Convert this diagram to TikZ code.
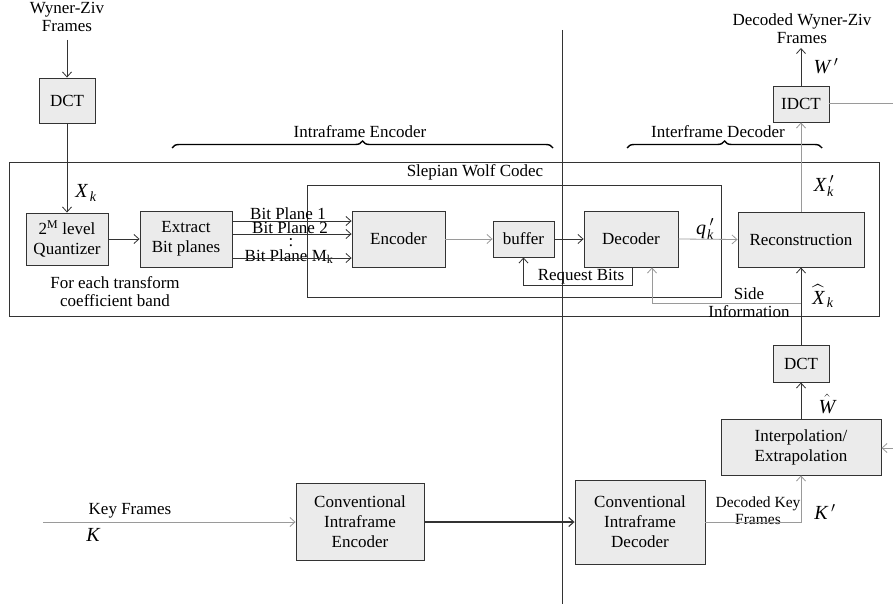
\documentclass[tikz,border=0pt]{standalone}
\usepackage{amsmath}
\usepackage{fontspec}
\setmainfont{Liberation Serif}
\usetikzlibrary{arrows.meta,decorations.pathreplacing}
\definecolor{boxfill}{HTML}{EBEBEB}
\definecolor{dk}{HTML}{333333}
\definecolor{lg}{HTML}{9A9A9A}
\newcommand{\ti}[1]{\text{\itshape #1}}
\tikzset{
  blk/.style={draw=dk,fill=boxfill,line width=0.9pt,align=center,inner sep=0pt,
    font=\fontsize{17}{20}\selectfont},
  lbl/.style={align=center,inner sep=0pt,font=\fontsize{17}{18}\selectfont},
  mlbl/.style={inner sep=0pt,font=\fontsize{20}{21}\selectfont},
  darr/.style={draw=dk,line width=0.8pt,-{Straight Barb[length=5pt,width=9pt]}},
  garr/.style={draw=lg,line width=0.8pt,-{Straight Barb[length=5pt,width=9pt]}},
  dline/.style={draw=dk,line width=0.8pt},
  gline/.style={draw=lg,line width=0.8pt},
  brc/.style={draw=black,line width=1.4pt,decorate,decoration={brace,amplitude=7pt}}
}
\begin{document}
\begin{tikzpicture}[x=1pt,y=-1pt]
\useasboundingbox (0,0) rectangle (893,604);
% frames
\draw[dline] (9,162) rectangle (879,316);
\draw[dline] (307,185) rectangle (721,297);
\draw[draw=dk,line width=1pt] (562,30) -- (562,604);
% blocks
\node[blk,minimum width=56pt,minimum height=45pt] (dct1) at (67,100.5) {DCT};
\node[blk,minimum width=82pt,minimum height=52pt] (quant) at (67,239) {2\textsuperscript{M} level\\Quantizer};
\node[blk,minimum width=92pt,minimum height=56pt] (extract) at (186,239) {Extract\\Bit planes};
\node[blk,minimum width=93pt,minimum height=56pt] (enc) at (398.5,239) {Encoder};
\node[blk,minimum width=61pt,minimum height=36pt] (buf) at (523.5,239) {buffer};
\node[blk,minimum width=94pt,minimum height=56pt] (dec) at (631,239) {Decoder};
\node[blk,minimum width=126pt,minimum height=55pt] (recon) at (801,239.5) {Reconstruction};
\node[blk,minimum width=56pt,minimum height=36pt] (idct) at (801,104) {IDCT};
\node[blk,minimum width=56pt,minimum height=37pt] (dct2) at (801,363.5) {DCT};
\node[blk,minimum width=160pt,minimum height=56pt] (interp) at (801,447) {Interpolation/\\Extrapolation};
\node[blk,minimum width=128pt,minimum height=77pt] (cenc) at (360,521.5) {Conventional\\Intraframe\\Encoder};
\node[blk,minimum width=130pt,minimum height=84pt] (cdec) at (640,522) {Conventional\\Intraframe\\Decoder};
% texts
\node[lbl] (wz) at (67,17) {Wyner-Ziv\\Frames};
\node[lbl] (dwz) at (802,29) {Decoded Wyner-Ziv\\Frames};
\node[lbl] (ienc) at (360,132) {Intraframe Encoder};
\node[lbl] (idec) at (718,132) {Interframe Decoder};
\node[lbl] (swc) at (475,172) {Slepian Wolf Codec};
\node[lbl] (feach) at (115,291.5) {For each transform\\coefficient band};
\node[lbl,anchor=base] (bp1) at (288,219) {Bit Plane 1};
\node[lbl,anchor=base] (bp2) at (290,233) {Bit Plane 2};
\node[lbl] (bpd) at (291,243) {:};
\node[lbl,anchor=base] (bpm) at (289,261) {Bit Plane M\textsubscript{k}};
\node[lbl] (rq) at (581,277) {Request Bits};
\node[lbl] (side) at (749,303) {Side\\Information};
\node[lbl] (kf) at (130,511) {Key Frames};
\node[lbl,font=\fontsize{15.5}{17}\selectfont] (dkf) at (758,510.5) {Decoded Key\\Frames};
% math labels
\node[mlbl] (xk) at (86,193) {$\ti{X}_{\,\ti{k}}$};
\node[mlbl] (qk) at (705,229) {$\ti{q}\,'_{\!\ti{k}}$};
\node[mlbl] (xpk) at (824,186) {$\ti{X}\,'_{\!\ti{k}}$};
\node[mlbl] (xhk) at (823,296) {$\widehat{\ti{X}}_{\,\ti{k}}$};
\node[mlbl] (wh) at (827,404) {$\hat{\ti{W}}$};
\node[mlbl] (wp) at (826,66) {$\ti{W}\,'$};
\node[mlbl] (kk) at (93,535) {$\ti{K}$};
\node[mlbl] (kp) at (825,512) {$\ti{K}\,'$};
% braces
\draw[brc] (172,148) -- (553,148);
\draw[brc] (627,148) -- (822,148);
% connectors
\coordinate (wzend) at (67,40);
\draw[darr] (wzend) -- (dct1.north);
\draw[darr] (dct1.south) -- (quant.north);
\draw[darr] (quant.east) -- (extract.west);
\draw[darr] (extract.east |- 0,221) -- (enc.west |- 0,221);
\draw[darr] (extract.east |- 0,234) -- (enc.west |- 0,234);
\draw[darr] (extract.east |- 0,258) -- (enc.west |- 0,258);
\draw[garr] (enc.east) -- (buf.west);
\draw[darr] (buf.east) -- (dec.west);
\draw[darr] (dec.south -| 632,0) -- (632,285) -- (523.5,285) -- (buf.south);
\draw[garr] (dec.east) -- (recon.west);
\draw[garr] (recon.north) -- (idct.south);
\coordinate (dwzend) at (801,48);
\draw[darr] (idct.north) -- (dwzend);
\coordinate (idctr) at (893,103);
\draw[gline] (idct.east |- idctr) -- (idctr);
\draw[darr] (dct2.north) -- (recon.south);
\draw[garr] (801,303) -- (652,303) -- (dec.south -| 652,0);
\draw[darr] (interp.north) -- (dct2.south);
\coordinate (interpin) at (893,448);
\draw[garr] (interpin) -- (interp.east |- interpin);
\coordinate (kin) at (43,522);
\draw[garr] (kin) -- (cenc.west |- kin);
\draw[darr,line width=1.1pt] (cenc.east |- 0,522) -- (cdec.west |- 0,522);
\draw[garr] (cdec.east |- 0,522) -- (801,522) -- (interp.south);
\end{tikzpicture}
\end{document}
